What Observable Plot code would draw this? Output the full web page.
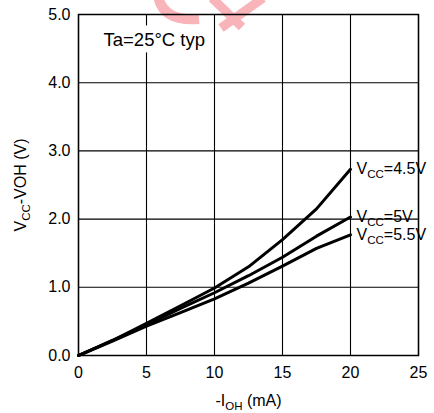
<!DOCTYPE html>
<html>
<head>
<meta charset="utf-8">
<script src="https://cdn.jsdelivr.net/npm/d3@7"></script>
<script src="https://cdn.jsdelivr.net/npm/@observablehq/plot@0.6"></script>
<style>
  html, body { margin: 0; padding: 0; background: #fff; }
  #chart { width: 434px; height: 413px; }
</style>
</head>
<body>
<div id="chart"></div>
<script>
// ---- data ----
const currents = [0, 2.5, 5, 7.5, 10, 12.5, 15, 17.5, 20];           // -IOH (mA)
const vcc45 = [0, 0.22, 0.47, 0.73, 0.99, 1.30, 1.70, 2.15, 2.73];    // VCC=4.5V
const vcc50 = [0, 0.22, 0.45, 0.69, 0.92, 1.17, 1.44, 1.75, 2.03];    // VCC=5V
const vcc55 = [0, 0.21, 0.43, 0.63, 0.83, 1.06, 1.31, 1.57, 1.77];    // VCC=5.5V
const seriesNames = ["V_{CC}=4.5V", "V_{CC}=5V", "V_{CC}=5.5V"];
const xTicks = [0, 5, 10, 15, 20, 25];
const yTicks = [0, 1, 2, 3, 4, 5];
const noteText = "Ta=25°C typ";
const xTitle = "-I_{OH} (mA)";
const yTitle = "V_{CC}-VOH (V)";

const seriesValues = [vcc45, vcc50, vcc55];
const rows = [];
seriesValues.forEach((vals, s) => vals.forEach((v, i) => rows.push({s: seriesNames[s], i: currents[i], v})));
const ends = seriesValues.map((vals, s) => ({s: seriesNames[s], i: currents[currents.length - 1], v: vals[vals.length - 1]}));

const font = "'Liberation Sans', Arial, Helvetica, sans-serif";

const svg = Plot.plot({
  width: 434,
  height: 413,
  marginLeft: 78,
  marginRight: 16,
  marginTop: 14,
  marginBottom: 58,
  style: {fontFamily: font, fontSize: "16px", color: "#000", background: "#fff"},
  x: {domain: [0, 25]},
  y: {domain: [0, 5]},
  marks: [
    Plot.gridX(xTicks, {stroke: "#000", strokeOpacity: 1, strokeWidth: 1.1}),
    Plot.gridY(yTicks, {stroke: "#000", strokeOpacity: 1, strokeWidth: 1.1}),
    Plot.axisX({ticks: xTicks, tickSize: 0, tickPadding: 11, label: null, fontSize: 16}),
    Plot.axisY({ticks: yTicks, tickSize: 0, tickPadding: 8, tickFormat: d3.format(".1f"), label: null, fontSize: 16}),
    Plot.text([noteText], {text: d => d, frameAnchor: "top-left", dx: 25, dy: 26, textAnchor: "start", lineAnchor: "middle", fontSize: 18.5, fill: "#000"}),
    Plot.line(rows, {x: "i", y: "v", z: "s", stroke: "#000", strokeWidth: 3, strokeLinejoin: "round"}),
    Plot.text(ends, {x: "i", y: "v", text: "s", textAnchor: "start", dx: 6, fontSize: 16, fill: "#000"}),
    Plot.text([xTitle], {text: d => d, frameAnchor: "bottom", dy: 50, textAnchor: "middle", fontSize: 16, fill: "#000"}),
    Plot.text([yTitle], {text: d => d, frameAnchor: "left", dx: -58, rotate: -90, textAnchor: "middle", fontSize: 16, fill: "#000"}),
    Plot.frame({stroke: "#000", strokeWidth: 1.5})
  ]
});

document.getElementById("chart").appendChild(svg);

// subscripts as tspans
d3.select(svg).selectAll("text").each(function() {
  const t = this.textContent;
  if (!t.includes("_{")) return;
  const parts = t.split(/(_\{[^}]*\})/).filter(p => p);
  this.textContent = "";
  let shifted = false;
  for (const p of parts) {
    const ts = d3.select(this).append("tspan");
    if (p.startsWith("_{")) {
      ts.text(p.slice(2, -1)).attr("font-size", "11.5px").attr("dy", 4);
      shifted = true;
    } else {
      ts.text(p);
      if (shifted) { ts.attr("dy", -4); shifted = false; }
    }
  }
});

// white box behind the note
d3.select(svg).selectAll("text").each(function() {
  if (this.textContent !== noteText) return;
  const b = this.getBBox();
  const g = this.parentNode;
  const rect = document.createElementNS("http://www.w3.org/2000/svg", "rect");
  rect.setAttribute("x", b.x - 6);
  rect.setAttribute("y", b.y - 4);
  rect.setAttribute("width", b.width + 12);
  rect.setAttribute("height", b.height + 6);
  rect.setAttribute("fill", "#fff");
  rect.setAttribute("transform", this.getAttribute("transform") || "");
  g.insertBefore(rect, this);
});

// faint watermark fragment at the top (decorative)
const wm = d3.select(svg).insert("g", ":first-child").attr("fill", "none").attr("stroke", "#f8b4b8").attr("stroke-linecap", "butt");
wm.append("path").attr("d", "M158,-4 Q163,22 199,19").attr("stroke-width", 10);
wm.append("path").attr("d", "M212,-2 L242,27").attr("stroke-width", 9);
wm.append("path").attr("d", "M263,-2 L221,28").attr("stroke-width", 9);
</script>
</body>
</html>
